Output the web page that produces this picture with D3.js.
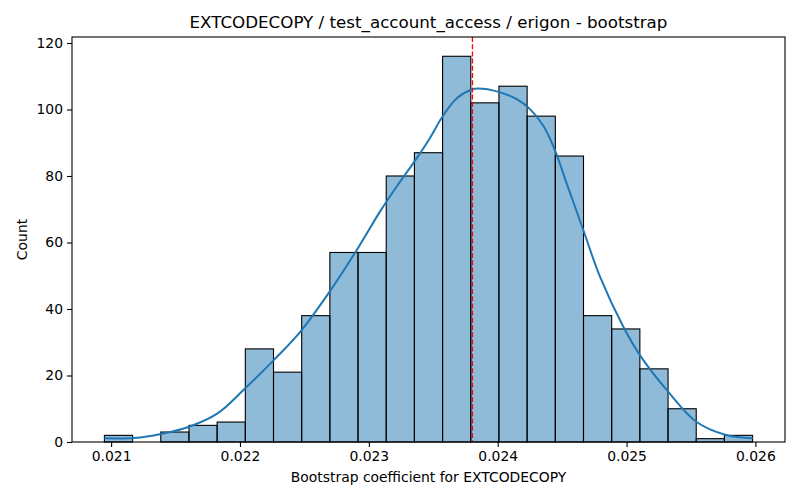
<!DOCTYPE html>
<html>
<head>
<meta charset="utf-8">
<script src="https://cdn.jsdelivr.net/npm/d3@7"></script>
<style>
	body { margin: 0; background: #fff; }
	svg text { font-family: "DejaVu Sans", sans-serif; fill: #000; }
</style>
</head>
<body>
<div id="chartDiv"></div>
<script>
// histogram bins (lower edge of first bin + constant width) and their counts
var binStart = 0.020948;
var binWidth = 0.0002187;
var counts = [2, 0, 3, 5, 6, 28, 21, 38, 57, 57, 80, 87, 116, 102, 107, 98, 86, 38, 34, 22, 10, 1, 2];

// kde curve (x value, count scale)
var kdeX = [0.020948, 0.021180, 0.021387, 0.021606, 0.021826, 0.022037, 0.022264, 0.022471,
	0.022697, 0.022909, 0.023090, 0.023219, 0.023348, 0.023477, 0.023567, 0.023683, 0.023800,
	0.023851, 0.024006, 0.024148, 0.024251, 0.024354, 0.024444, 0.024535, 0.024663, 0.024793,
	0.024973, 0.025102, 0.025321, 0.025541, 0.025773, 0.025979];
var kdeY = [1.1, 1.2, 2.4, 4.6, 8.6, 16.0, 24.7, 33.3,
	45.3, 57.9, 69.5, 77.0, 84.0, 91.6, 97.6, 103.4, 106.0,
	106.3, 105.3, 103.1, 100.1, 95.1, 87.8, 77.8, 63.9, 49.8,
	34.8, 26.2, 15.2, 6.1, 2.1, 1.1];

// observed value (red dashed line)
var observed = 0.023804;

var xTicks = [0.021, 0.022, 0.023, 0.024, 0.025, 0.026];
var yTicks = [0, 20, 40, 60, 80, 100, 120];

var title = "EXTCODECOPY / test_account_access / erigon - bootstrap";
var xLabel = "Bootstrap coefficient for EXTCODECOPY";
var yLabel = "Count";

function drawChart() {
	var margin = {top: 37, right: 15, bottom: 58, left: 72},
	    width = 800 - margin.left - margin.right,
	    height = 500 - margin.top - margin.bottom;

	var bins = counts.map(function(c, i) {
		return {x0: binStart + i * binWidth, x1: binStart + (i + 1) * binWidth, count: c};
	});

	// matplotlib style 5% padding on the x range
	var lo = bins[0].x0, hi = bins[bins.length - 1].x1;
	var pad = (hi - lo) * 0.05;
	var x = d3.scaleLinear().domain([lo - pad, hi + pad]).range([0, width]);
	var y = d3.scaleLinear().domain([0, d3.max(counts) * 1.05]).range([height, 0]);

	var svg = d3.select("#chartDiv").append("svg")
		.attr("width", 800)
		.attr("height", 500)
		.append("g")
		.attr("transform", "translate(" + margin.left + "," + margin.top + ")");

	//bars
	svg.selectAll(".bar")
		.data(bins.filter(function(d) { return d.count > 0; }))
		.enter().append("rect")
		.attr("class", "bar")
		.attr("x", function(d) { return x(d.x0); })
		.attr("y", function(d) { return y(d.count); })
		.attr("width", function(d) { return x(d.x1) - x(d.x0); })
		.attr("height", function(d) { return y(0) - y(d.count); })
		.attr("fill", "#1f77b4")
		.attr("fill-opacity", 0.5)
		.attr("stroke", "#000")
		.attr("stroke-width", 1.1);

	//kde line
	var line = d3.line()
		.x(function(d, i) { return x(kdeX[i]); })
		.y(function(d) { return y(d); })
		.curve(d3.curveCatmullRom.alpha(0.5));

	svg.append("path")
		.datum(kdeY)
		.attr("d", line)
		.attr("fill", "none")
		.attr("stroke", "#1f77b4")
		.attr("stroke-width", 2);

	//observed value
	svg.append("line")
		.attr("x1", x(observed))
		.attr("x2", x(observed))
		.attr("y1", 0)
		.attr("y2", height)
		.attr("stroke", "red")
		.attr("stroke-width", 1.3)
		.attr("stroke-dasharray", "5,2.2");

	//axes
	var xAxis = svg.append("g")
		.attr("transform", "translate(0," + height + ")")
		.call(d3.axisBottom(x).tickValues(xTicks).tickFormat(d3.format(".3f")).tickSizeOuter(0).tickSize(5).tickPadding(4));
	var yAxis = svg.append("g")
		.call(d3.axisLeft(y).tickValues(yTicks).tickSizeOuter(0).tickSize(5).tickPadding(4));

	[xAxis, yAxis].forEach(function(a) {
		a.selectAll("text").style("font-size", "13.9px").attr("fill", "#000");
		a.selectAll("line").attr("stroke", "#000").attr("stroke-width", 1.1);
		a.select(".domain").remove();
	});

	//frame
	svg.append("rect")
		.attr("width", width)
		.attr("height", height)
		.attr("fill", "none")
		.attr("stroke", "#000")
		.attr("stroke-width", 1.1);

	svg.append("text")
		.attr("x", width / 2)
		.attr("y", -9)
		.attr("text-anchor", "middle")
		.style("font-size", "16.7px")
		.text(title);

	svg.append("text")
		.attr("x", width / 2)
		.attr("y", height + 40)
		.attr("text-anchor", "middle")
		.style("font-size", "13.9px")
		.text(xLabel);

	svg.append("text")
		.attr("transform", "translate(" + (-45) + "," + (height / 2) + ") rotate(-90)")
		.attr("text-anchor", "middle")
		.style("font-size", "13.9px")
		.text(yLabel);
}

drawChart();
</script>
</body>
</html>
